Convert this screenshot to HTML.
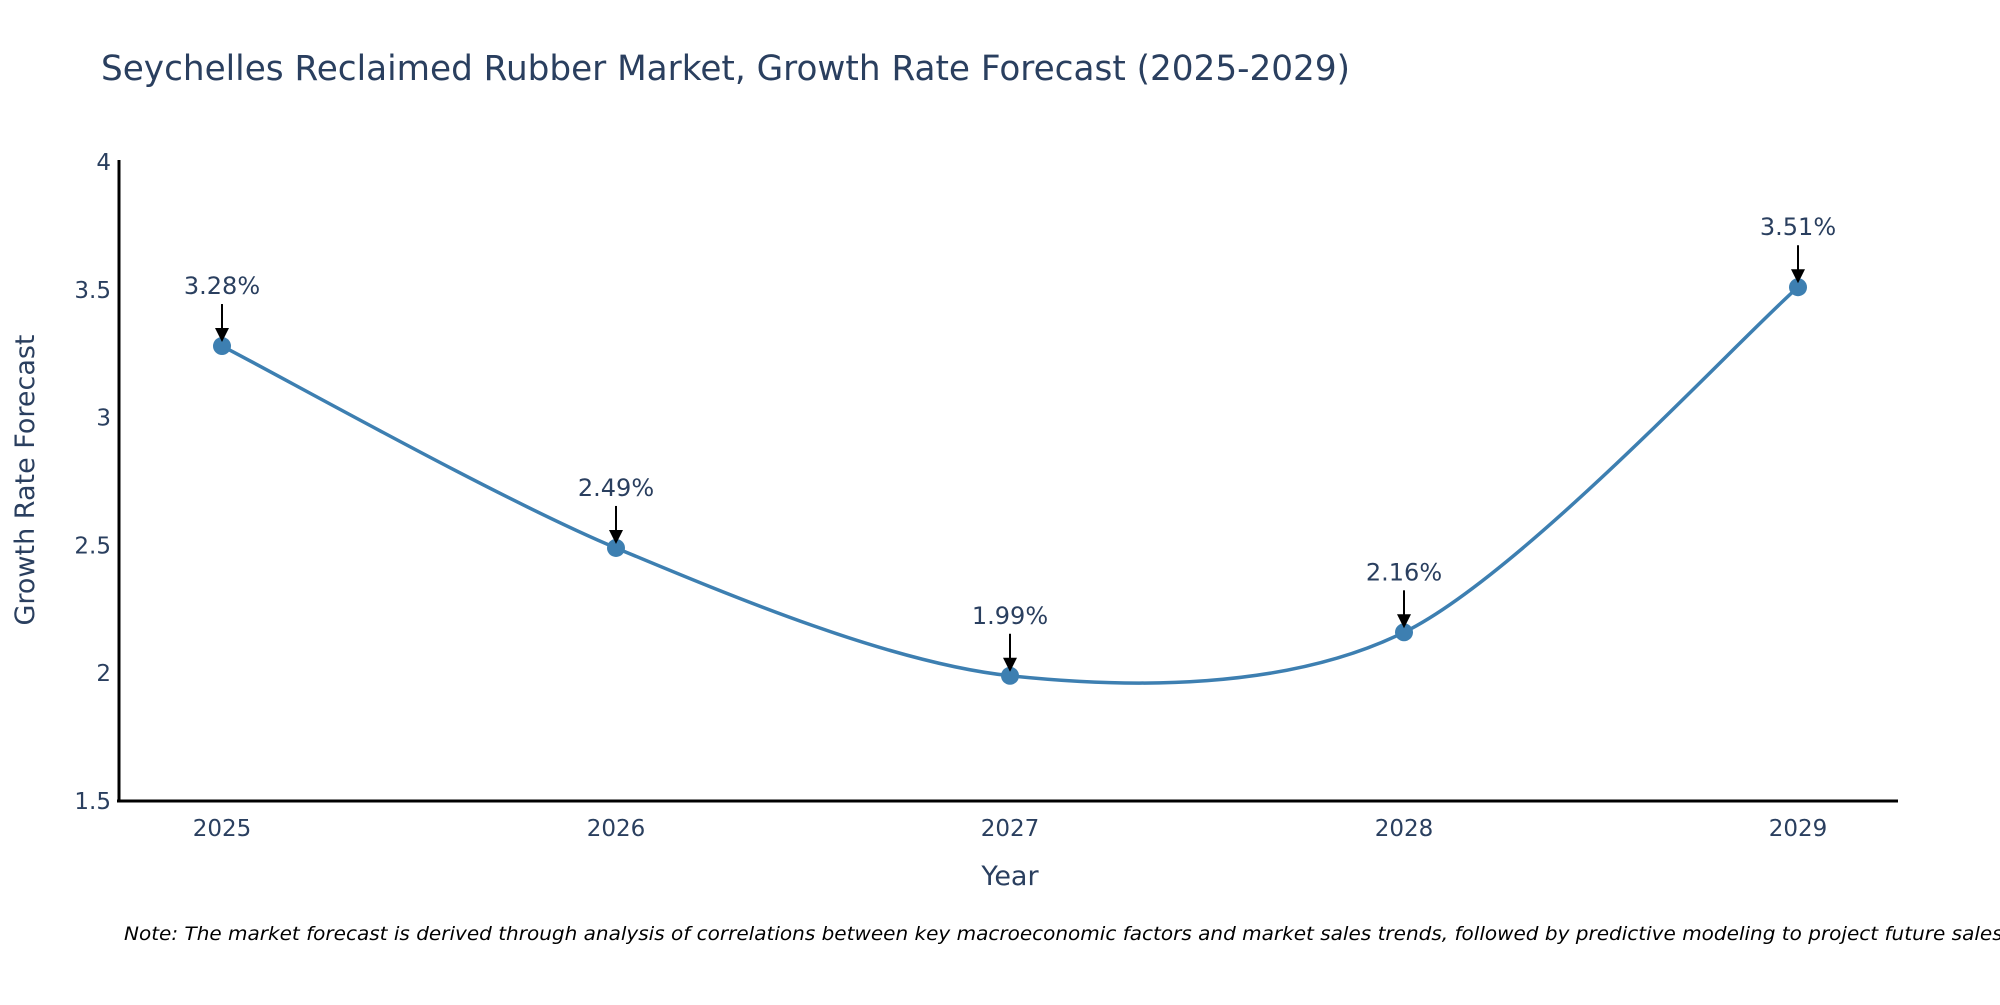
<!DOCTYPE html>
<html><head><meta charset="utf-8"><style>
body{margin:0;background:#fff;}
svg text{font-family:"DejaVu Sans","Liberation Sans",sans-serif;fill:#2a3f5f;}
</style></head><body>
<svg id="chart" width="2000" height="1000">
<text x="101" y="80" font-size="35" textLength="1249" lengthAdjust="spacingAndGlyphs">Seychelles Reclaimed Rubber Market, Growth Rate Forecast (2025-2029)</text>
<g id="yticks"></g>
<g id="xticks"></g>
<line x1="119" y1="160" x2="119" y2="802" stroke="#000" stroke-width="3"/>
<line x1="117" y1="801" x2="1898" y2="801" stroke="#000" stroke-width="3"/>
<text transform="translate(34,480) rotate(-90)" text-anchor="middle" font-size="27">Growth Rate Forecast</text>
<text x="1010" y="885" text-anchor="middle" font-size="27">Year</text>
<path id="line" fill="none" stroke="#3d7fb1" stroke-width="3.5"/>
<g id="points"></g>
<g id="annots"></g>
<text x="124" y="940" font-size="19" font-style="italic" textLength="1885" lengthAdjust="spacingAndGlyphs" style="fill:#000">Note: The market forecast is derived through analysis of correlations between key macroeconomic factors and market sales trends, followed by predictive modeling to project future sales.</text>
</svg>
<script>
const years=["2025","2026","2027","2028","2029"];
const values=[3.28,2.49,1.99,2.16,3.51];
const yTicks=[1.5,2,2.5,3,3.5,4];
const NS="http://www.w3.org/2000/svg";
const x=i=>222+i*(1798-222)/(years.length-1);
const y=v=>801-(v-1.5)*(801-162)/2.5;
function mk(t,a,p){const e=document.createElementNS(NS,t);for(const k in a)e.setAttribute(k,a[k]);p.appendChild(e);return e;}
const yt=document.getElementById('yticks');
yTicks.forEach(v=>{const t=mk('text',{x:111,y:y(v)+8,'text-anchor':'end','font-size':23},yt);t.textContent=v;

});
const xt=document.getElementById('xticks');
years.forEach((yr,i)=>{const t=mk('text',{x:x(i),y:836,'text-anchor':'middle','font-size':23},xt);t.textContent=yr;

});
const P=values.map((v,i)=>[x(i),y(v)]);
let d=`M${P[0][0]},${P[0][1]}`;
const s=0.15;
for(let i=0;i<P.length-1;i++){
 const p0=P[Math.max(i-1,0)],p1=P[i],p2=P[i+1],p3=P[Math.min(i+2,P.length-1)];
 const c1=[p1[0]+(p2[0]-p0[0])*s,p1[1]+(p2[1]-p0[1])*s];
 const c2=[p2[0]-(p3[0]-p1[0])*s,p2[1]-(p3[1]-p1[1])*s];
 d+=` C${c1[0]},${c1[1]} ${c2[0]},${c2[1]} ${p2[0]},${p2[1]}`;
}
document.getElementById('line').setAttribute('d',d);
const pts=document.getElementById('points'),an=document.getElementById('annots');
P.forEach((p,i)=>{
 const c=mk('circle',{cx:p[0],cy:p[1],r:9,fill:'#3d7fb1'},pts);
 
 
 const t=mk('text',{x:p[0],y:p[1]-52,'text-anchor':'middle','font-size':24},an);
 t.textContent=values[i].toFixed(2)+'%';
 
 
 const l=mk('line',{x1:p[0],y1:p[1]-42,x2:p[0],y2:p[1]-16,stroke:'#000','stroke-width':2},an);
 
 
 const h=mk('path',{d:`M${p[0]-7},${p[1]-18} L${p[0]+7},${p[1]-18} L${p[0]},${p[1]-4} Z`,fill:'#000'},an);
 
 
});
</script>
</body></html>
